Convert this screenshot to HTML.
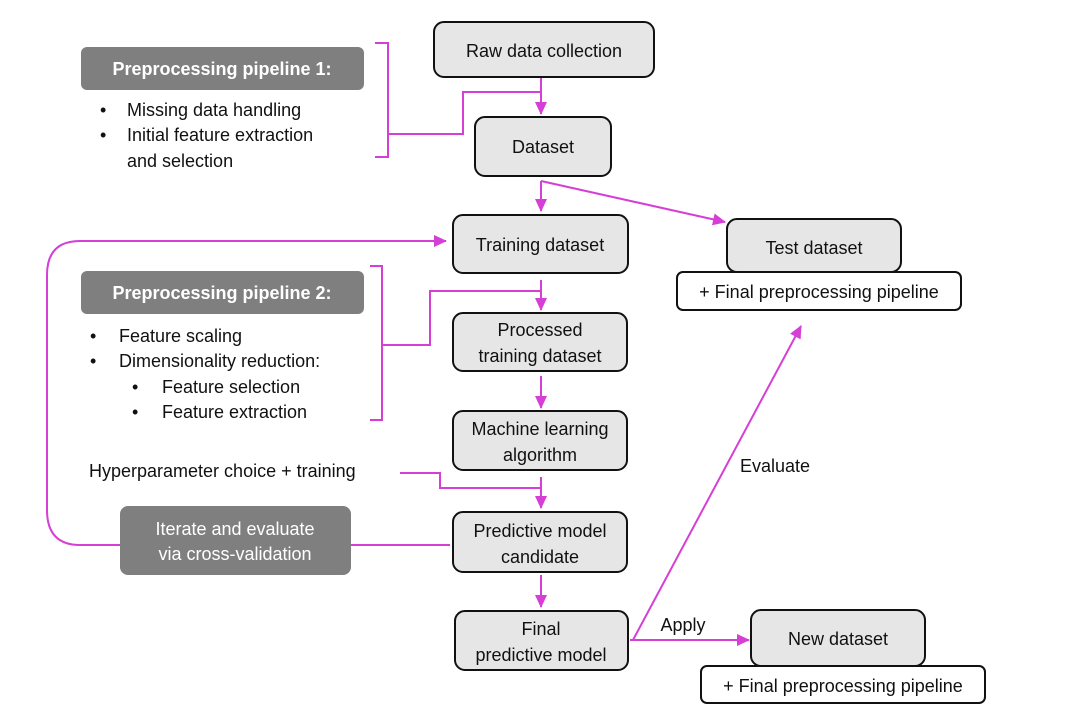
<!DOCTYPE html>
<html><head><meta charset="utf-8"><style>
body{margin:0;background:#fff;}
svg{display:block;font-family:"Liberation Sans",sans-serif;}
</style></head><body>
<svg width="1090" height="728" viewBox="0 0 1090 728" xmlns="http://www.w3.org/2000/svg">
<defs>
<marker id="a" markerWidth="13" markerHeight="12" refX="12" refY="6" orient="auto" markerUnits="userSpaceOnUse">
<path d="M0,0 L13,6 L0,12 z" fill="#d63fd6"/></marker>
</defs>
<rect width="1090" height="728" fill="#fff"/>
<g fill="#e6e6e6" stroke="#111" stroke-width="2">
<rect x="434" y="22" width="220" height="55" rx="10"/>
<rect x="475" y="117" width="136" height="59" rx="10"/>
<rect x="453" y="215" width="175" height="58" rx="10"/>
<rect x="727" y="219" width="174" height="53" rx="10"/>
<rect x="453" y="313" width="174" height="58" rx="10"/>
<rect x="453" y="411" width="174" height="59" rx="10"/>
<rect x="453" y="512" width="174" height="60" rx="10"/>
<rect x="455" y="611" width="173" height="59" rx="10"/>
<rect x="751" y="610" width="174" height="56" rx="10"/>
</g>
<g fill="#fff" stroke="#111" stroke-width="2">
<rect x="677" y="272" width="284" height="38" rx="6"/>
<rect x="701" y="666" width="284" height="37" rx="6"/>
</g>
<g fill="#7f7f7f">
<rect x="81" y="47" width="283" height="43" rx="6"/>
<rect x="81" y="271" width="283" height="43" rx="6"/>
<rect x="120" y="506" width="231" height="69" rx="8"/>
</g>
<g fill="none" stroke="#d63fd6" stroke-width="2">
<path d="M375,43 H388 V157 H375"/>
<path d="M388,134 H463 V92 H541"/>
<path d="M541,78 V114" marker-end="url(#a)"/>
<path d="M541,181 V211" marker-end="url(#a)"/>
<path d="M541,181 L725,222" marker-end="url(#a)"/>
<path d="M370,266 H382 V420 H370"/>
<path d="M382,345 H430 V291 H541"/>
<path d="M541,280 V310" marker-end="url(#a)"/>
<path d="M541,376 V408" marker-end="url(#a)"/>
<path d="M400,473 H440 V488 H541"/>
<path d="M541,477 V508" marker-end="url(#a)"/>
<path d="M541,575 V607" marker-end="url(#a)"/>
<path d="M351,545 H450"/>
<path d="M120,545 H80 Q47,545 47,510 V275 Q47,241 80,241 H446" marker-end="url(#a)"/>
<path d="M630,640 H749" marker-end="url(#a)"/>
<path d="M633,640 L801,326" marker-end="url(#a)"/>
</g>
<g font-size="18" fill="#111" text-anchor="middle">
<text x="544" y="57">Raw data collection</text>
<text x="543" y="153">Dataset</text>
<text x="540" y="251">Training dataset</text>
<text x="814" y="254">Test dataset</text>
<text x="819" y="298">+ Final preprocessing pipeline</text>
<text x="540" y="336">Processed</text>
<text x="540" y="362">training dataset</text>
<text x="540" y="435">Machine learning</text>
<text x="540" y="461">algorithm</text>
<text x="540" y="537">Predictive model</text>
<text x="540" y="563">candidate</text>
<text x="541" y="635">Final</text>
<text x="541" y="661">predictive model</text>
<text x="838" y="645">New dataset</text>
<text x="843" y="692">+ Final preprocessing pipeline</text>
<text x="775" y="472">Evaluate</text>
<text x="683" y="631">Apply</text>
</g>
<g font-size="18" fill="#fff" text-anchor="middle">
<text x="222" y="75" font-weight="bold">Preprocessing  pipeline 1:</text>
<text x="222" y="299" font-weight="bold">Preprocessing pipeline 2:</text>
<text x="235" y="535">Iterate and evaluate</text>
<text x="235" y="560">via cross-validation</text>
</g>
<g font-size="18" fill="#111">
<text x="100" y="116">•</text><text x="127" y="116">Missing data handling</text>
<text x="100" y="141">•</text><text x="127" y="141">Initial feature extraction</text>
<text x="127" y="167">and selection</text>
<text x="90" y="342">•</text><text x="119" y="342">Feature scaling</text>
<text x="90" y="367">•</text><text x="119" y="367">Dimensionality reduction:</text>
<text x="132" y="393">•</text><text x="162" y="393">Feature selection</text>
<text x="132" y="418">•</text><text x="162" y="418">Feature extraction</text>
<text x="89" y="477">Hyperparameter choice + training</text>
</g>
</svg>
</body></html>
